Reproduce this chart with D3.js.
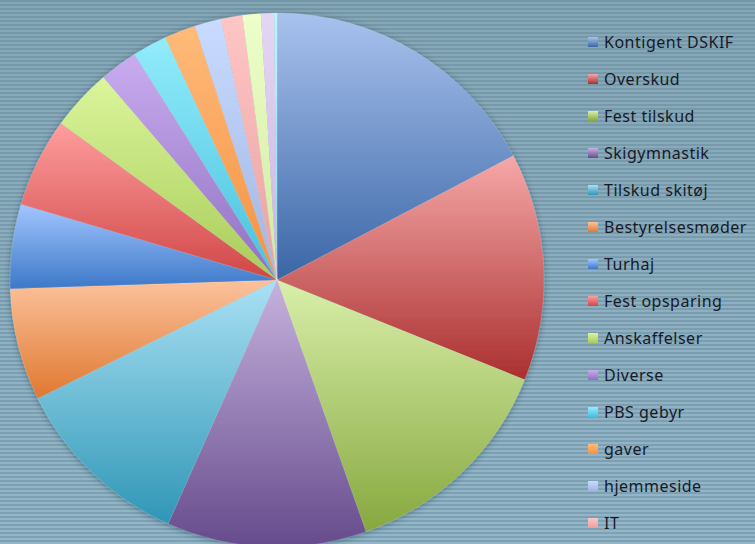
<!DOCTYPE html>
<html>
<head>
<meta charset="utf-8">
<script src="https://cdn.jsdelivr.net/npm/d3@7"></script>
<style>
    html, body { margin: 0; padding: 0; }
    #d3container { width: 755px; height: 544px; }
</style>
</head>
<body>
<div id="d3container"></div>
<script>
var categories = ['Kontigent DSKIF', 'Overskud', 'Fest tilskud', 'Skigymnastik', 'Tilskud skitøj',
    'Bestyrelsesmøder', 'Turhaj', 'Fest opsparing', 'Anskaffelser', 'Diverse', 'PBS gebyr',
    'gaver', 'hjemmeside', 'IT', '', '', ''];
var values = [17.3, 13.8, 13.5, 12.1, 11.0, 6.8, 5.1, 5.4, 3.75, 2.3, 2.1, 1.9, 1.6, 1.3, 1.1, 0.8, 0.17];
var topColors = ['#a9c2ee', '#f6a8a8', '#d9efaa', '#c6b2de', '#aae1f4', '#fcc29c', '#a2c6ff', '#ff9e9e',
    '#dbf59c', '#c9acf0', '#92ecfc', '#ffbb7a', '#c9dbff', '#ffc6c6', '#edffca', '#e5d6f5', '#bbf4fc'];
var bottomColors = ['#3a66a6', '#aa2f2f', '#86a83e', '#664b8c', '#2f96b6', '#e07830', '#3c78c8', '#d04646',
    '#a8cc58', '#9070c0', '#48c0dc', '#f59040', '#a0b4e0', '#e8a0a0', '#d0e8a0', '#c8b4e0', '#80d8ec'];

var width = 755;
var height = 544;
var cx = 277, cy = 280, radius = 267;

var svg = d3.select('#d3container')
    .append('svg')
    .attr('width', width)
    .attr('height', height);

var defs = svg.append('defs');

// striped background
var bg = defs.append('linearGradient').attr('id', 'bg')
    .attr('x1', 0).attr('y1', 0).attr('x2', 0).attr('y2', 1);
bg.append('stop').attr('offset', '0%').attr('stop-color', '#84a7b7');
bg.append('stop').attr('offset', '100%').attr('stop-color', '#93b7c9');

var stripes = defs.append('pattern').attr('id', 'stripes')
    .attr('width', 8).attr('height', 4)
    .attr('patternUnits', 'userSpaceOnUse');
stripes.append('rect').attr('width', 8).attr('height', 2)
    .attr('fill', '#557585').attr('opacity', 0.32);

svg.append('rect').attr('width', width).attr('height', height).attr('fill', 'url(#bg)');
svg.append('rect').attr('width', width).attr('height', height).attr('fill', 'url(#stripes)');

var shadow = defs.append('filter').attr('id', 'shadow')
    .attr('x', '-10%').attr('y', '-10%').attr('width', '120%').attr('height', '120%');
shadow.append('feDropShadow')
    .attr('dx', 0).attr('dy', 1).attr('stdDeviation', 3)
    .attr('flood-color', '#1e3440').attr('flood-opacity', 0.45);

values.forEach(function (v, i) {
    var g = defs.append('linearGradient').attr('id', 'grad' + i)
        .attr('x1', 0).attr('y1', 0).attr('x2', 0).attr('y2', 1);
    g.append('stop').attr('offset', '0%').attr('stop-color', topColors[i]);
    g.append('stop').attr('offset', '100%').attr('stop-color', bottomColors[i]);
});

var data = categories.map(function (c, i) {
    return {label: c, value: values[i], index: i};
});

var pie = d3.pie()
    .sort(null)
    .value(function (d) {
        return d.value;
    });

var arc = d3.arc()
    .innerRadius(0)
    .outerRadius(radius);

var chartGroup = svg.append('g')
    .attr('transform', 'translate(' + cx + ',' + cy + ')')
    .attr('filter', 'url(#shadow)');

chartGroup.selectAll('path')
    .data(pie(data))
    .enter()
    .append('path')
    .attr('d', arc)
    .attr('fill', function (d) {
        return 'url(#grad' + d.data.index + ')';
    })
    .attr('stroke', 'rgba(255,255,255,0.25)')
    .attr('stroke-width', 0.5);

// legend
var legendY = d3.scalePoint()
    .domain(d3.range(categories.length))
    .range([42, 42 + 37 * (categories.length - 1)]);

var legend = svg.append('g').attr('class', 'legend');
var items = legend.selectAll('g')
    .data(data)
    .enter()
    .append('g')
    .attr('transform', function (d) {
        return 'translate(588,' + legendY(d.index) + ')';
    });

items.append('rect')
    .attr('x', 0).attr('y', -5)
    .attr('width', 10).attr('height', 10)
    .attr('fill', function (d) {
        return 'url(#grad' + d.index + ')';
    });

items.append('text')
    .attr('x', 16)
    .attr('y', 0)
    .attr('dy', '0.36em')
    .attr('font-family', 'Noto Sans, sans-serif')
    .attr('font-size', 16)
    .attr('letter-spacing', 0.5)
    .attr('fill', '#161a28')
    .text(function (d) {
        return d.label;
    });
</script>
</body>
</html>
